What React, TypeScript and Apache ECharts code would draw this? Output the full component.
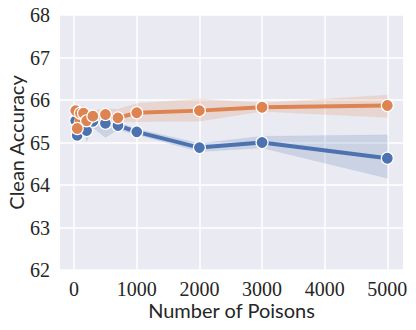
import React, { useEffect, useRef } from "react";
import * as echarts from "echarts";

const xs = [25, 50, 100, 150, 200, 300, 500, 700, 1000, 2000, 3000, 5000];
const blueMean = [65.51, 65.17, 65.48, 65.5, 65.28, 65.5, 65.45, 65.4, 65.25, 64.88, 65.0, 64.63];
const blueLow = [65.3, 65.0, 65.35, 65.4, 65.02, 65.35, 65.12, 65.3, 65.18, 64.78, 64.87, 64.16];
const blueHigh = [65.65, 65.35, 65.6, 65.6, 65.5, 65.6, 65.55, 65.48, 65.32, 64.98, 65.15, 65.18];
const orangeMean = [65.75, 65.33, 65.69, 65.69, 65.51, 65.62, 65.66, 65.58, 65.7, 65.75, 65.83, 65.87];
const orangeLow = [65.6, 65.0, 65.55, 65.6, 65.4, 65.5, 65.53, 65.48, 65.49, 65.5, 65.73, 65.59];
const orangeHigh = [65.85, 65.75, 65.85, 65.88, 65.65, 65.75, 65.8, 65.78, 65.92, 66.03, 65.93, 66.12];
const xTicks = [0, 1000, 2000, 3000, 4000, 5000];

const BLUE = "#4C72B0";
const ORANGE = "#DD8452";

function band(low: number[], high: number[], color: string) {
  const data = xs.map((x, i) => [x, low[i], high[i]]);
  return {
    type: "custom",
    data,
    silent: true,
    z: 1,
    renderItem: (params: any, api: any) => {
      if (params.dataIndex !== 0) return null;
      const top = xs.map((x, i) => api.coord([x, high[i]]));
      const bot = xs.map((x, i) => api.coord([x, low[i]])).reverse();
      return {
        type: "polygon",
        shape: { points: top.concat(bot) },
        style: { fill: color, opacity: 0.2, stroke: color, lineWidth: 0.8, strokeOpacity: 0.3 },
      };
    },
  };
}

function line(mean: number[], color: string, z: number) {
  return {
    type: "line",
    data: xs.map((x, i) => [x, mean[i]]),
    z,
    symbol: "circle",
    symbolSize: 12,
    lineStyle: { color, width: 4 },
    itemStyle: { color, borderColor: "#ffffff", borderWidth: 1.2 },
  };
}

export default function App() {
  const ref = useRef<HTMLDivElement>(null);
  useEffect(() => {
    if (!ref.current) return;
    const chart = echarts.init(ref.current, null, { renderer: "svg" });
    chart.setOption({
      animation: false,
      backgroundColor: "#ffffff",
      textStyle: { fontFamily: "Liberation Serif" },
      grid: {
        left: 60,
        right: 13,
        top: 15,
        bottom: 60,
        outerBoundsMode: "none",
        containLabel: false,
        show: true,
        backgroundColor: "#EAEAF2",
        borderWidth: 0,
      },
      xAxis: {
        type: "value",
        min: -225,
        max: 5250,
        name: "Number of Poisons",
        nameLocation: "middle",
        nameGap: 30,
        nameMoveOverlap: false,
        nameTextStyle: { fontFamily: "Lato", fontSize: 20, color: "#262626" },
        axisLine: { show: false },
        axisTick: { show: false, customValues: xTicks },
        axisLabel: {
          customValues: xTicks,
          formatter: (v: number) => String(v),
          fontFamily: "Liberation Serif",
          fontSize: 20,
          color: "#262626",
          margin: 9,
        },
        splitLine: { show: true, lineStyle: { color: "#ffffff", width: 1.5 } },
      },
      yAxis: {
        type: "value",
        min: 62,
        max: 68,
        interval: 1,
        name: "Clean Accuracy",
        nameLocation: "middle",
        nameGap: 34,
        nameMoveOverlap: false,
        nameTextStyle: { fontFamily: "Lato", fontSize: 20, color: "#262626" },
        axisLine: { show: false },
        axisTick: { show: false },
        axisLabel: { formatter: (v: number) => String(v), fontFamily: "Liberation Serif", fontSize: 20, color: "#262626", margin: 10 },
        splitLine: { show: true, lineStyle: { color: "#ffffff", width: 1.5 } },
      },
      series: [
        band(blueLow, blueHigh, BLUE),
        band(orangeLow, orangeHigh, ORANGE),
        line(blueMean, BLUE, 3),
        line(orangeMean, ORANGE, 4),
      ],
    });
    return () => chart.dispose();
  }, []);
  return <div ref={ref} style={{ width: 416, height: 330, position: "absolute", left: 0, top: 0 }} />;
}
